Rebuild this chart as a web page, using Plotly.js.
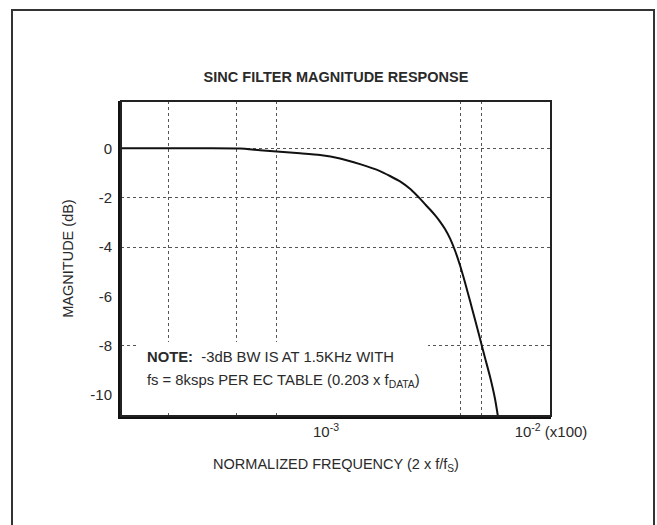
<!DOCTYPE html>
<html>
<head>
<meta charset="utf-8">
<script src="https://cdn.plot.ly/plotly-3.0.1.min.js"></script>
<style>html,body{margin:0;padding:0;background:#fff;}#chart{width:657px;height:525px;}</style>
</head>
<body>
<div id="chart"></div>
<script>
// Normalized frequency (x100 units) and magnitude (dB)
const freq = [1.227e-4, 2.006e-4, 3.0e-4, 4.148e-4, 5.089e-4, 6.246e-4, 7.664e-4, 9.404e-4, 1.154e-3, 1.416e-3, 1.738e-3, 1.925e-3, 2.133e-3, 2.362e-3, 2.530e-3, 2.617e-3, 2.754e-3, 2.900e-3, 3.051e-3, 3.211e-3, 3.380e-3, 3.557e-3, 3.744e-3, 3.940e-3, 4.148e-3, 4.365e-3, 4.594e-3, 4.835e-3, 5.089e-3, 5.356e-3, 5.637e-3, 5.843e-3];
const magDb = [0, 0, 0, -0.01, -0.08, -0.14, -0.2, -0.27, -0.41, -0.64, -0.92, -1.12, -1.34, -1.64, -1.9, -2.04, -2.26, -2.48, -2.71, -2.97, -3.27, -3.65, -4.14, -4.74, -5.44, -6.18, -6.94, -7.71, -8.49, -9.25, -10.15, -11.0];

const xGrid = [2.0e-4, 4.0e-4, 6.0e-4, 3.95e-3, 4.9e-3];
const yGrid = [0, -2, -4, -8];
const xTickVals = [1e-3, 1e-2];
const xTickText = ['10<sup>-3</sup>', '10<sup>-2</sup> (x100)'];
const yTickVals = [0, -2, -4, -6, -8, -10];
const yTickText = ['0', '-2', '-4', '-6', '-8', '-10'];

const FONT = 'Liberation Sans, Arial, sans-serif';
const TXT = '#2a2a2a';

const trace = {
  x: freq, y: magDb, type: 'scatter', mode: 'lines',
  line: {color: '#111', width: 2, shape: 'spline', smoothing: 0.5},
  hoverinfo: 'skip', cliponaxis: true
};

const layout = {
  width: 657, height: 525,
  margin: {l: 121, r: 106, t: 101, b: 109},
  paper_bgcolor: '#fff', plot_bgcolor: '#fff',
  showlegend: false,
  font: {family: FONT, color: TXT, size: 15},
  title: {text: '<b>SINC FILTER MAGNITUDE RESPONSE</b>', font: {family: FONT, size: 14.5, color: TXT},
          x: 0.5, xref: 'paper', xanchor: 'center', y: 1 - 77/525, yref: 'container', yanchor: 'middle'},
  xaxis: {
    type: 'log', range: [Math.log10(1.227e-4), -2], autorange: false,
    tickmode: 'array', tickvals: xTickVals, ticktext: xTickText,
    ticks: '', showgrid: false, zeroline: false,
    showline: true, linecolor: '#111', linewidth: 3,
    tickfont: {family: FONT, size: 15, color: TXT},
    minor: {tickmode: 'array', tickvals: xGrid, showgrid: true, gridcolor: '#555', griddash: 'dot', gridwidth: 1, ticks: ''},
    title: {text: 'NORMALIZED FREQUENCY (2 x f/f<sub>S</sub>)', font: {family: FONT, size: 14.5, color: TXT}, standoff: 20},
    automargin: false
  },
  yaxis: {
    range: [-10.85, 1.92], autorange: false,
    tickmode: 'array', tickvals: yTickVals, ticktext: yTickText,
    ticks: '', showgrid: false, zeroline: false,
    showline: true, linecolor: '#111', linewidth: 3,
    tickfont: {family: FONT, size: 15, color: TXT},
    ticklabelstandoff: 3,
    minor: {tickmode: 'array', tickvals: yGrid, showgrid: true, gridcolor: '#555', griddash: 'dot', gridwidth: 1, ticks: ''},
    title: {text: 'MAGNITUDE (dB)', font: {family: FONT, size: 14.5, color: TXT}, standoff: 14},
    automargin: false
  },
  shapes: [
    // white box behind note
    {type: 'rect', xref: 'paper', yref: 'paper', x0: 0.0395, x1: 0.714, y0: 0.019, y1: 0.2349, fillcolor: '#fff', line: {width: 0}, layer: 'above'},
    // top/right plot border
    {type: 'rect', xref: 'paper', yref: 'paper', x0: 0, x1: 1, y0: 0, y1: 1, line: {color: '#222', width: 2}, layer: 'above'},
    // outer frame
    {type: 'rect', xref: 'paper', yref: 'paper', x0: (12-121)/430, x1: (654-121)/430, y0: (416-540)/315, y1: (416-10)/315, line: {color: '#333', width: 2}, layer: 'above'}
  ],
  annotations: [
    {xref: 'paper', yref: 'paper', x: (145-121)/430, y: (416-357)/315, xanchor: 'left', yanchor: 'middle', showarrow: false,
     text: '<b>NOTE:</b>  -3dB BW IS AT 1.5KHz WITH', font: {family: FONT, size: 14.8, color: TXT}},
    {xref: 'paper', yref: 'paper', x: (145-121)/430, y: (416-381)/315, xanchor: 'left', yanchor: 'middle', showarrow: false,
     text: 'fs = 8ksps PER EC TABLE (0.203 x f<sub>DATA</sub>)', font: {family: FONT, size: 14.8, color: TXT}}
  ]
};

Plotly.newPlot('chart', [trace], layout, {staticPlot: true, displayModeBar: false});
</script>
</body>
</html>
